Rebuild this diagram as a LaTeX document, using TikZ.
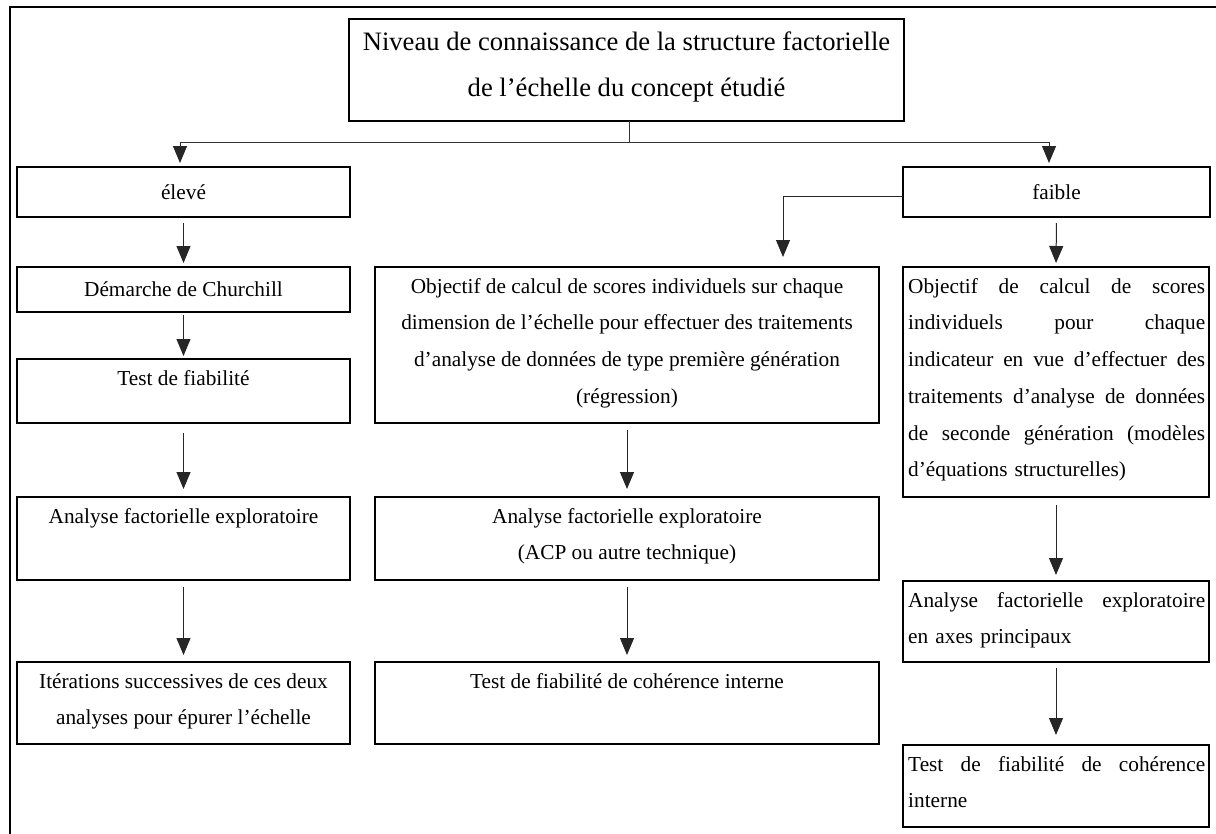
\documentclass[tikz,border=0pt]{standalone}
\usepackage{fontspec}
\setmainfont{Liberation Serif}
\usetikzlibrary{arrows.meta}
\newcommand\bstrut{\rule{0pt}{16pt}}
\newcommand\hstrut{\rule{0pt}{20pt}}
\newcommand\jline[1]{\makebox[297pt][l]{#1}}
\begin{document}
\begin{tikzpicture}[x=1pt,y=-1pt,
  box/.style={draw=black, line width=1.8pt, inner sep=0pt, outer sep=0pt, anchor=north west, font=\fontsize{21.3}{36.7}\selectfont},
  txt/.style={inner sep=0pt, anchor=north, align=center, yshift=-10pt, font=\fontsize{21.3}{36.7}\selectfont},
  jtxt/.style={inner sep=0pt, anchor=north west, align=left, text width=297pt, xshift=5pt, yshift=-10pt, font=\fontsize{21.3}{36.7}\selectfont},
  ln/.style={draw=black!80, line width=1pt},
  arr/.style={draw=black!85, line width=1pt, -{Triangle[width=14pt,length=17pt]}}]
\useasboundingbox (0,0) rectangle (1216,833);
% outer frame
\draw[line width=1.8pt] (10,845) -- (10,7) -- (1230,7);

% boxes
\node[box, minimum width=555pt, minimum height=102pt] (top) at (349,19) {};
\node[box, minimum width=333pt, minimum height=50pt] (eleve) at (17,167) {élevé};
\node[box, minimum width=307pt, minimum height=50pt] (faible) at (903,167) {faible};

\node[box, minimum width=333pt, minimum height=45pt] (demarche) at (17,267) {Démarche de Churchill};
\node[box, minimum width=333pt, minimum height=64pt] (testf) at (17,359) {};
\node[box, minimum width=333pt, minimum height=83pt] (anaL) at (17,497) {};
\node[box, minimum width=333pt, minimum height=82pt] (iter) at (17,662) {};

\node[box, minimum width=504pt, minimum height=156pt] (objM) at (375,267) {};
\node[box, minimum width=504pt, minimum height=83pt] (anaM) at (375,497) {};
\node[box, minimum width=504pt, minimum height=82pt] (testM) at (375,662) {};

\node[box, minimum width=306pt, minimum height=230pt] (objR) at (903,267) {};
\node[box, minimum width=306pt, minimum height=81pt] (anaR) at (903,581) {};
\node[box, minimum width=306pt, minimum height=82pt] (testR) at (903,745) {};

% texts
\node[inner sep=0pt, anchor=north, align=center, yshift=-11pt, font=\fontsize{26.6}{46}\selectfont] (ttop) at (top.north)
  {\hstrut Niveau de connaissance de la structure factorielle\\de l’échelle du concept étudié};
\node[txt] (ttestf) at (testf.north) {\bstrut Test de fiabilité};
\node[txt] (tanaL) at (anaL.north) {\bstrut Analyse factorielle exploratoire};
\node[txt] (titer) at (iter.north) {\bstrut Itérations successives de ces deux\\analyses pour épurer l’échelle};

\node[txt] (tobjM) at (objM.north) {\bstrut Objectif de calcul de scores individuels sur chaque\\dimension de l’échelle pour effectuer des traitements\\d’analyse de données de type première génération\\(régression)};
\node[txt] (tanaM) at (anaM.north) {\bstrut Analyse factorielle exploratoire\\(ACP ou autre technique)};
\node[txt] (ttestM) at (testM.north) {\bstrut Test de fiabilité de cohérence interne};

\node[jtxt] (tobjR) at (objR.north west) {\jline{\bstrut Objectif\hfill de\hfill calcul\hfill de\hfill scores}\\
  \jline{individuels\hfill pour\hfill chaque}\\
  \jline{indicateur\hfill en\hfill vue\hfill d’effectuer\hfill des}\\
  \jline{traitements\hfill d’analyse\hfill de\hfill données}\\
  \jline{de\hfill seconde\hfill génération\hfill (modèles}\\
  d’équations structurelles)};
\node[jtxt] (tanaR) at (anaR.north west) {\jline{\bstrut Analyse\hfill factorielle\hfill exploratoire}\\en axes principaux};
\node[jtxt] (ttestR) at (testR.north west) {\jline{\bstrut Test\hfill de\hfill fiabilité\hfill de\hfill cohérence}\\interne};

% connectors
\coordinate (ht) at (629,142);
\coordinate (hl) at (180,142);
\coordinate (hr) at (1049,142);
\coordinate (fm) at (783,196);
\draw[ln] (ht |- top.south) -- (ht);
\draw[ln] (hl) -- (hr);
\draw[arr, shorten >=4pt] (hl) -- (hl |- eleve.north);
\draw[arr, shorten >=4pt] (hr) -- (hr |- faible.north);
\draw[arr, shorten >=10pt] (faible.west |- fm) -- (fm) -- (fm |- objM.north);

\draw[arr, shorten <=6pt, shorten >=4pt] (eleve.south) -- (demarche.north);
\draw[arr, shorten <=3pt, shorten >=3pt] (demarche.south) -- (testf.north);
\draw[arr, shorten <=10pt, shorten >=8pt] (testf.south) -- (anaL.north);
\draw[arr, shorten <=7pt, shorten >=7pt] (anaL.south) -- (iter.north);

\draw[arr, shorten <=7pt, shorten >=8pt] (objM.south) -- (anaM.north);
\draw[arr, shorten <=7pt, shorten >=7pt] (anaM.south) -- (testM.north);

\draw[arr, shorten <=6pt, shorten >=4pt] (faible.south) -- (objR.north);
\draw[arr, shorten <=8pt, shorten >=6pt] (objR.south) -- (anaR.north);
\draw[arr, shorten <=6pt, shorten >=10pt] (anaR.south) -- (testR.north);
\end{tikzpicture}
\end{document}
